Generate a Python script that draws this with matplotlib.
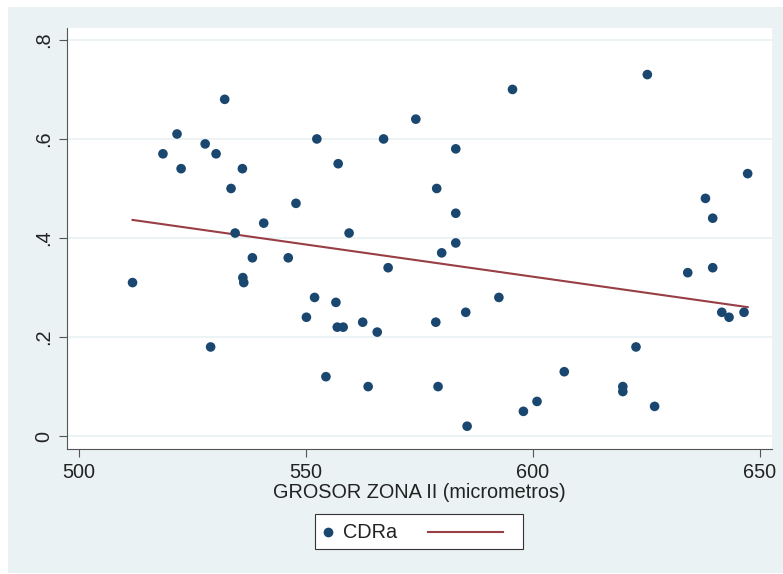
import numpy as np
import matplotlib
matplotlib.use("Agg")
import matplotlib.pyplot as plt
from matplotlib.patches import Rectangle
from matplotlib.lines import Line2D

plt.rcParams['font.family'] = ['Liberation Sans', 'DejaVu Sans']

# GROSOR ZONA II (micrometros) vs CDRa
grosor = [511.8, 518.5, 521.6, 522.5, 527.8, 530.2, 532.1, 536.0, 533.5, 534.4,
          540.7, 547.8, 538.2, 546.1, 536.1, 536.3, 552.4, 557.1, 559.5, 567.1,
          568.1, 529.0, 551.9, 550.1, 556.6, 556.9, 558.2, 562.5, 565.7, 554.4,
          563.7, 574.2, 595.5, 625.2, 583.0, 578.8, 583.0, 583.0, 579.9, 592.5,
          647.3, 638.0, 639.6, 639.6, 634.1, 578.6, 585.2, 641.6, 643.2, 646.5,
          622.7, 606.9, 579.1, 619.8, 619.8, 626.8, 600.9, 597.9, 585.5]
cdra = [0.31, 0.57, 0.61, 0.54, 0.59, 0.57, 0.68, 0.54, 0.50, 0.41,
        0.43, 0.47, 0.36, 0.36, 0.32, 0.31, 0.60, 0.55, 0.41, 0.60,
        0.34, 0.18, 0.28, 0.24, 0.27, 0.22, 0.22, 0.23, 0.21, 0.12,
        0.10, 0.64, 0.70, 0.73, 0.58, 0.50, 0.45, 0.39, 0.37, 0.28,
        0.53, 0.48, 0.44, 0.34, 0.33, 0.23, 0.25, 0.25, 0.24, 0.25,
        0.18, 0.13, 0.10, 0.10, 0.09, 0.06, 0.07, 0.05, 0.02]

x_ticks = [500, 550, 600, 650]
y_ticks = [0, 0.2, 0.4, 0.6, 0.8]
y_ticklabels = ['0', '.2', '.4', '.6', '.8']

navy = '#1a476f'
maroon = '#983e44'
bg = '#eaf2f3'
txt = '#222222'

fig = plt.figure(figsize=(7.83, 5.74), dpi=100)
fig.patch.set_facecolor('white')
fig.patches.append(Rectangle((8 / 783, 1 / 574), 1 - 8 / 783, 566 / 574,
                             transform=fig.transFigure, fc=bg, ec='none', zorder=-5))

ax = fig.add_axes([0.0852, 0.2178, 0.9004, 0.7334])
ax.set_facecolor('white')

# linear fit, drawn over the data range
x = np.array(grosor)
y = np.array(cdra)
b, a = np.polyfit(x, y, 1)
xf = np.array([x.min(), x.max()])
ax.plot(xf, a + b * xf, color=maroon, lw=1.5, zorder=2)
ax.scatter(x, y, s=48, color=navy, edgecolors='none', zorder=3)

ax.set_xlim(497.3, 652.6)
ax.set_ylim(-0.026, 0.824)
ax.set_xticks(x_ticks)
ax.set_yticks(y_ticks)
ax.set_yticklabels(y_ticklabels, rotation=90, va='center')
ax.tick_params(axis='both', labelsize=14.3, length=6, width=0.8, color='#555555',
               labelcolor=txt, direction='out')
ax.tick_params(axis='y', pad=4)
ax.tick_params(axis='x', pad=4)
ax.grid(axis='y', color=bg, lw=1.3)
ax.set_axisbelow(True)
for s in ['top', 'right']:
    ax.spines[s].set_visible(False)
for s in ['left', 'bottom']:
    ax.spines[s].set_color('#555555')
    ax.spines[s].set_linewidth(0.8)
ax.set_xlabel('GROSOR ZONA II (micrometros)', fontsize=14.3, color=txt, labelpad=1)

# legend box drawn by hand (dot + label, then the fit line)
fig.patches.append(Rectangle((0.4023, 0.0430), 0.2653, 0.0610, transform=fig.transFigure,
                             fc='white', ec='#333333', lw=0.8, zorder=1))
fig.add_artist(Line2D([0.4189], [0.0725], marker='o', ms=7, color=navy, mec='none',
                      transform=fig.transFigure))
fig.text(0.438, 0.0725, 'CDRa', fontsize=14.3, color=txt, va='center', ha='left')
fig.add_artist(Line2D([0.5466, 0.6424], [0.0732, 0.0732], color=maroon, lw=1.5,
                      transform=fig.transFigure))

fig.savefig('out.png', dpi=100)
